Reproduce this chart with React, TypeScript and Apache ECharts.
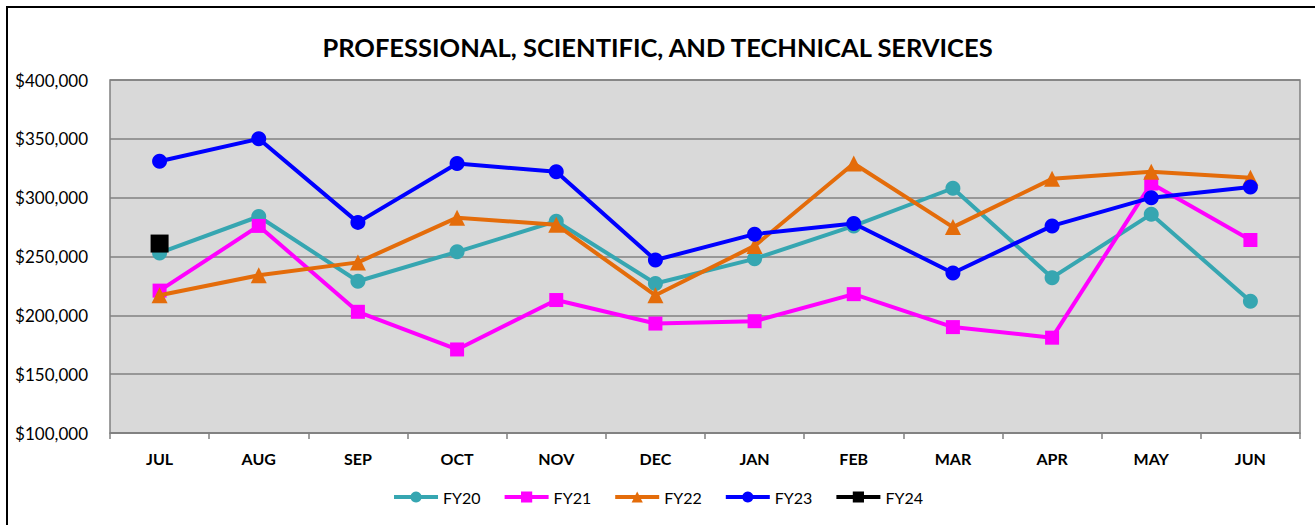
import React, { useEffect, useRef } from "react";
import * as echarts from "echarts";

const months = ["JUL", "AUG", "SEP", "OCT", "NOV", "DEC", "JAN", "FEB", "MAR", "APR", "MAY", "JUN"];
const fy20 = [253000, 284000, 229000, 254000, 280000, 227000, 248000, 276000, 308000, 232000, 286000, 212000];
const fy21 = [221000, 276000, 203000, 171000, 213000, 193000, 195000, 218000, 190000, 181000, 312000, 264000];
const fy22 = [217000, 234000, 245000, 283000, 277000, 217000, 259000, 329000, 275000, 316000, 322000, 317000];
const fy23 = [331000, 350000, 279000, 329000, 322000, 247000, 269000, 278000, 236000, 276000, 300000, 309000];
const fy24 = [261000, null, null, null, null, null, null, null, null, null, null, null];

const seriesNames = ["FY20", "FY21", "FY22", "FY23", "FY24"];
const seriesColors = ["#36A6B1", "#FF00FF", "#E46C0A", "#0000FF", "#000000"];
const seriesSymbols = ["circle", "rect", "triangle", "circle", "rect"];
const seriesData = [fy20, fy21, fy22, fy23, fy24];

const FONT = "Lato";

export default function App() {
  const ref = useRef<HTMLDivElement>(null);
  useEffect(() => {
    const chart = echarts.init(ref.current!, null, { renderer: "svg" });
    chart.setOption({
      animation: false,
      backgroundColor: "#ffffff",
      textStyle: { fontFamily: FONT },
      title: {
        text: "PROFESSIONAL, SCIENTIFIC, AND TECHNICAL SERVICES",
        left: "center",
        top: 29,
        textStyle: { fontFamily: FONT, fontSize: 25.5, fontWeight: "bold", color: "#000" },
      },
      graphic: [
        {
          type: "rect",
          shape: { x: 7, y: 7, width: 1330, height: 540 },
          style: { fill: "none", stroke: "#000", lineWidth: 2 },
          silent: true,
        },
      ],
      legend: {
        top: 484,
        left: "center",
        itemWidth: 44,
        itemHeight: 14,
        itemGap: 22,
        textStyle: { fontFamily: FONT, fontSize: 16, color: "#000" },
        data: seriesNames.map((n) => ({ name: n, lineStyle: { width: 4 } })),
      },
      grid: {
        left: 110,
        right: 15,
        top: 80,
        bottom: 92,
        show: true,
        backgroundColor: "#d9d9d9",
        borderColor: "#808080",
        borderWidth: 1.5,
      },
      xAxis: {
        type: "category",
        data: months,
        boundaryGap: true,
        axisLine: { show: true, lineStyle: { color: "#808080", width: 1.5 } },
        axisTick: { show: true, length: 6, interval: 0, lineStyle: { color: "#808080", width: 1.5 } },
        axisLabel: { interval: 0, margin: 17, fontFamily: FONT, fontSize: 16, fontWeight: "bold", color: "#000" },
      },
      yAxis: {
        type: "value",
        min: 100000,
        max: 400000,
        interval: 50000,
        axisLine: { show: false },
        axisTick: { show: false },
        splitLine: { show: true, lineStyle: { color: "#808080", width: 1.5 } },
        axisLabel: {
          margin: 22,
          fontFamily: FONT,
          fontSize: 17,
          color: "#000",
          formatter: (v: number) => "$" + v.toLocaleString("en-US"),
        },
      },
      series: seriesNames.map((name, i) => ({
        name,
        type: "line",
        data: seriesData[i],
        symbol: seriesSymbols[i],
        symbolSize: seriesSymbols[i] === "triangle" ? 16 : seriesSymbols[i] === "rect" ? (i === 4 ? 18 : 14) : 15,
        showSymbol: true,
        connectNulls: false,
        itemStyle: { color: seriesColors[i] },
        lineStyle: { color: seriesColors[i], width: 4 },
        z: 2 + i,
      })),
    });
    return () => chart.dispose();
  }, []);
  return <div ref={ref} style={{ position: "absolute", left: 0, top: 0, width: 1315, height: 525 }} />;
}
